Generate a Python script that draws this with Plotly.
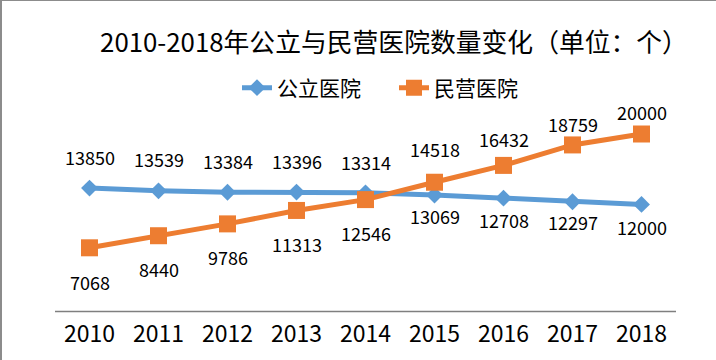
import plotly.graph_objects as go

years = ["2010", "2011", "2012", "2013", "2014", "2015", "2016", "2017", "2018"]
public_hosp = [13850, 13539, 13384, 13396, 13314, 13069, 12708, 12297, 12000]
private_hosp = [7068, 8440, 9786, 11313, 12546, 14518, 16432, 18759, 20000]

title_text = "2010-2018年公立与民营医院数量变化（单位：个）"
name_public = "公立医院"
name_private = "民营医院"

# label vertical offsets (px), style only
public_shift = [31, 32, 31, 31, 31, -21, -22, -20, -23]
private_shift = [-34, -33, -33, -34, -33, 33, 26, 21, 22]

FONT = "Noto Sans CJK SC"
BLUE = "#5B9BD5"
ORANGE = "#ED7D31"

fig = go.Figure()
fig.add_trace(go.Scatter(
    x=years, y=public_hosp, name=name_public, mode="lines+markers",
    line=dict(color=BLUE, width=5),
    marker=dict(symbol="diamond", size=13, color=BLUE),
))
fig.add_trace(go.Scatter(
    x=years, y=private_hosp, name=name_private, mode="lines+markers",
    line=dict(color=ORANGE, width=5),
    marker=dict(symbol="square", size=17, color=ORANGE),
))

annotations = []
for ys, shifts in ((public_hosp, public_shift), (private_hosp, private_shift)):
    for i, (y, s) in enumerate(zip(ys, shifts)):
        annotations.append(dict(
            x=i, y=y, text=str(y), showarrow=False, yshift=s,
            xanchor="center", yanchor="middle",
            font=dict(family=FONT, size=18, color="#000000"),
        ))

fig.update_layout(
    width=716, height=360,
    margin=dict(l=55, r=40, t=90, b=50, autoexpand=False),
    paper_bgcolor="white", plot_bgcolor="white",
    title=dict(text=title_text, x=394 / 716, xanchor="center", xref="container",
               y=1 - 43 / 360, yanchor="middle", yref="container",
               font=dict(family=FONT, size=25.8, color="#000000")),
    legend=dict(orientation="h", x=(237 - 55) / 621, xanchor="left", y=1.009, yanchor="middle",
                font=dict(family=FONT, size=21, color="#000000"),
                bgcolor="rgba(0,0,0,0)", itemwidth=30, entrywidth=112,
                entrywidthmode="pixels"),
    showlegend=True,
    annotations=annotations,
    xaxis=dict(type="category", range=[-0.5, len(years) - 0.5], autorange=False,
               automargin=False,
               showgrid=False, zeroline=False,
               showline=False,
               ticks="", ticklabelstandoff=8,
               tickfont=dict(family=FONT, size=23, color="#000000")),
    yaxis=dict(range=[0, 25000], autorange=False, visible=False, showgrid=False,
               zeroline=False, automargin=False),
    shapes=[
        # category axis baseline
        dict(type="line", xref="paper", yref="paper", layer="above",
             x0=0.0, x1=1.0, y0=-1.5 / 220, y1=-1.5 / 220,
             line=dict(color="#7f7f7f", width=1.5)),
        # outer chart border (top and left edges)
        dict(type="line", xref="paper", yref="paper",
             x0=(0.5 - 55) / 621, x1=(716 - 55) / 621,
             y0=(310 - 0.5) / 220, y1=(310 - 0.5) / 220,
             line=dict(color="#8c8c8c", width=1)),
        dict(type="line", xref="paper", yref="paper",
             x0=(1 - 55) / 621, x1=(1 - 55) / 621,
             y0=(310 - 0) / 220, y1=(310 - 360) / 220,
             line=dict(color="#8c8c8c", width=2)),
    ],
)

fig.write_html("out.html", config={"displayModeBar": False},
               post_script="document.body.style.margin='0';document.body.style.overflow='hidden';")
